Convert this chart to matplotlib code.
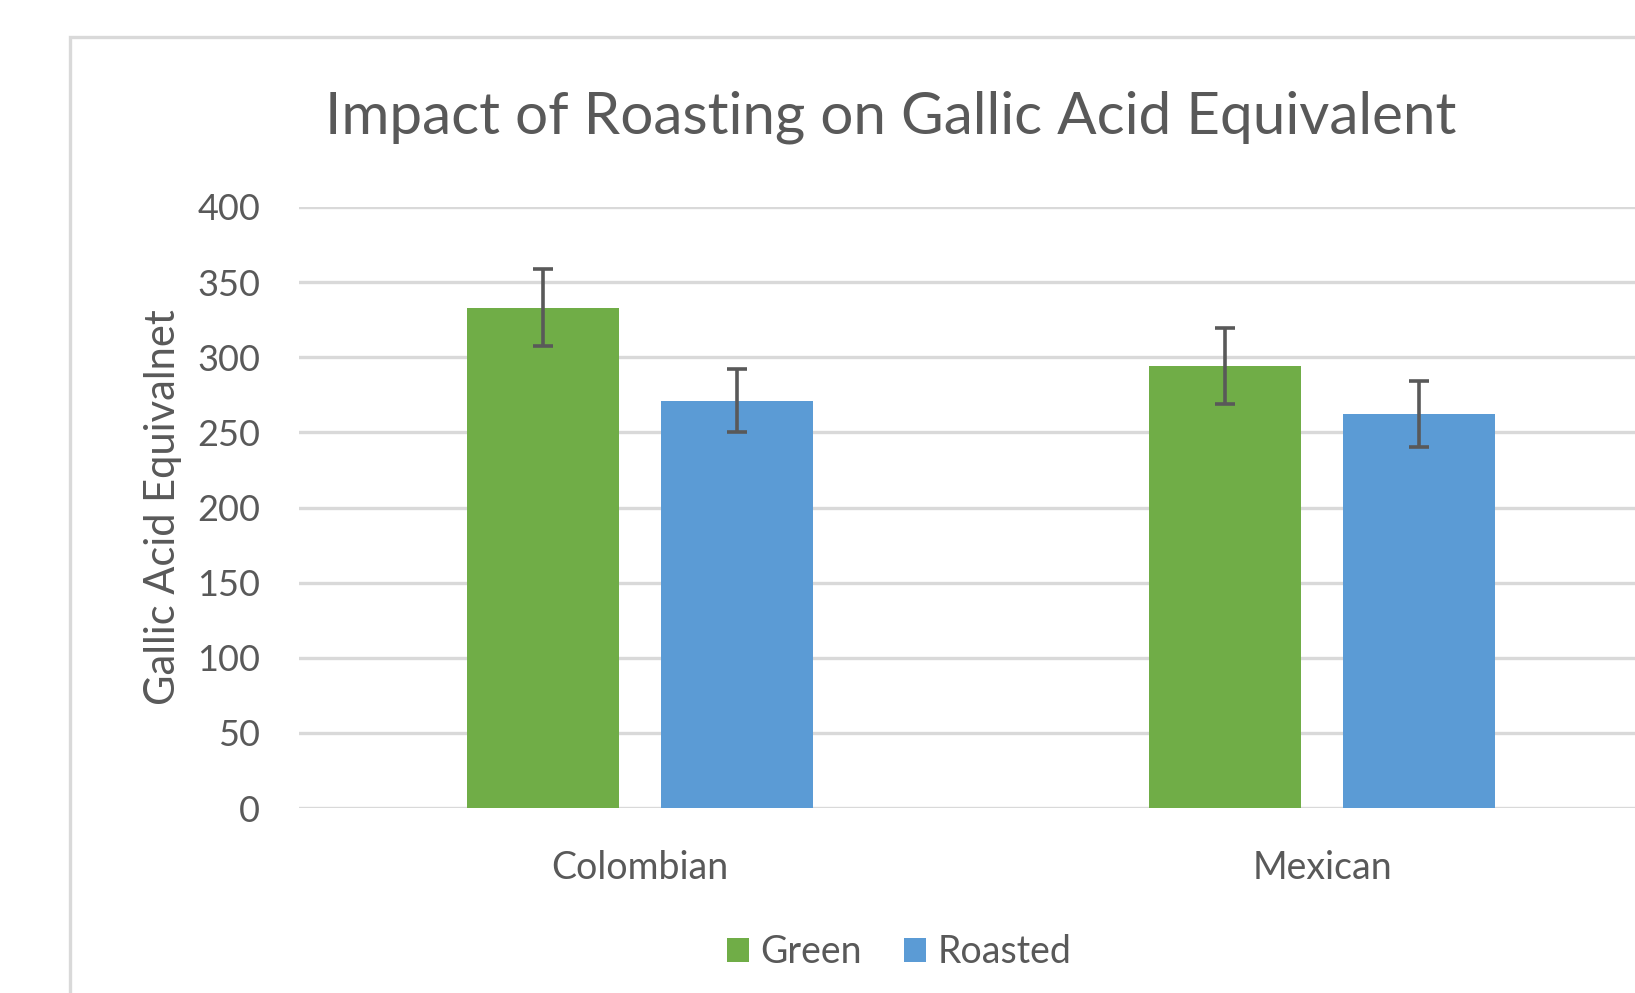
import numpy as np
import matplotlib.pyplot as plt
from matplotlib.patches import Rectangle

plt.rcParams['font.family'] = ['Lato', 'DejaVu Sans']

# data
categories = ['Colombian', 'Mexican']
series = ['Green', 'Roasted']
green = [333, 294]
roasted = [271, 262]
green_err = [25.5, 25.3]
roasted_err = [21, 22]
yticks = [0, 50, 100, 150, 200, 250, 300, 350, 400]

colors = ['#70AD47', '#5B9BD5']
txt = '#595959'
grid = '#D9D9D9'

fig = plt.figure(figsize=(16.35, 9.93), dpi=100)
ax = fig.add_axes([299 / 1635, 185 / 993, 1364 / 1635, 601 / 993])

# chart-area border (runs off the right and bottom edge like the screenshot)
fig.patches.append(Rectangle((70 / 1635, -0.2), 1.5, 0.2 + 1 - 37 / 993,
                             transform=fig.transFigure, fill=False,
                             edgecolor=grid, linewidth=2.4))

x = np.arange(len(categories))
w = 0.222
off = 0.142
ekw = dict(ecolor=txt, elinewidth=2.6, capsize=7, capthick=2.6)
ax.bar(x - off, green, w, yerr=green_err, color=colors[0], label=series[0],
       error_kw=ekw, zorder=3)
ax.bar(x + off, roasted, w, yerr=roasted_err, color=colors[1], label=series[1],
       error_kw=ekw, zorder=3)

ax.set_xlim(-0.5, 1.5)
ax.set_ylim(0, 400)
ax.set_yticks(yticks)
ax.set_xticks(x)
ax.set_xticklabels(categories, fontsize=27)
ax.yaxis.grid(True, color=grid, linewidth=2.4, zorder=0)
ax.set_axisbelow(True)
for s in ax.spines.values():
    s.set_visible(False)
ax.tick_params(axis='both', length=0, colors=txt)
ax.tick_params(axis='y', labelsize=26, pad=28)
ax.tick_params(axis='x', pad=30)

ax.set_ylabel('Gallic Acid Equivalnet', fontsize=30, color=txt, va='center')
ax.yaxis.set_label_coords(-0.1, 0.5)

fig.text(891 / 1635, 1 - 117 / 993, 'Impact of Roasting on Gallic Acid Equivalent',
         ha='center', va='center', fontsize=42, color=txt)

fig.legend(loc='center', bbox_to_anchor=(899 / 1635, 1 - 952 / 993), ncol=2,
           frameon=False, fontsize=27, labelcolor=txt, handlelength=0.6,
           handleheight=0.6, handletextpad=0.3, columnspacing=1.1)

fig.savefig('out.png', dpi=100)
